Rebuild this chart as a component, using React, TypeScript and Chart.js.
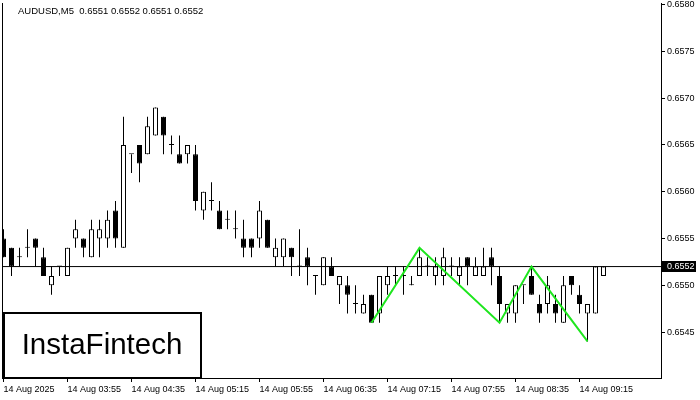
import React, { useEffect, useRef } from "react";
import { Chart, registerables } from "chart.js";

Chart.register(...registerables);

const symbol = "AUDUSD,M5";

const opens = [
  0.6555, 0.6554, 0.6553, 0.6554, 0.6555, 0.6553, 0.6550, 0.6552, 0.6551, 0.6555,
  0.6555, 0.6553, 0.6555, 0.6555, 0.6558, 0.6554, 0.6564, 0.6565, 0.6564, 0.6566,
  0.6568, 0.6565, 0.6564, 0.6564, 0.6564, 0.6558, 0.6559, 0.6558, 0.6557, 0.6556,
  0.6555, 0.6555, 0.6555, 0.6557, 0.6553, 0.6553, 0.6554, 0.6552, 0.6553, 0.6551,
  0.6550, 0.6552, 0.6550, 0.6550, 0.6548, 0.6547, 0.6549, 0.6547, 0.6550, 0.6551,
  0.6551, 0.6550, 0.6551, 0.6552, 0.6551, 0.6551, 0.6552, 0.6551, 0.6553, 0.6551,
  0.6551, 0.6553, 0.6551, 0.6547, 0.6547, 0.6550, 0.6551, 0.6548, 0.6548, 0.6548,
  0.6546, 0.6551, 0.6549, 0.6547, 0.6547, 0.6551,
];
const highs = [
  0.6556, 0.6554, 0.6554, 0.6556, 0.6555, 0.6554, 0.6552, 0.6552, 0.6554, 0.6557,
  0.6555, 0.6557, 0.6557, 0.6558, 0.6559, 0.6568, 0.6564, 0.6565, 0.6568, 0.6569,
  0.6568, 0.6566, 0.6566, 0.6565, 0.6565, 0.6560, 0.6561, 0.6559, 0.6558, 0.6558,
  0.6557, 0.6555, 0.6559, 0.6557, 0.6555, 0.6555, 0.6554, 0.6556, 0.6554, 0.6551,
  0.6553, 0.6553, 0.6551, 0.6551, 0.6550, 0.6549, 0.6549, 0.6551, 0.6552, 0.6552,
  0.6552, 0.6551, 0.6554, 0.6553, 0.6553, 0.6554, 0.6553, 0.6553, 0.6553, 0.6553,
  0.6554, 0.6554, 0.6552, 0.6548, 0.6550, 0.6550, 0.6552, 0.6549, 0.6551, 0.6549,
  0.6551, 0.6551, 0.6550, 0.6548, 0.6552, 0.6552,
];
const lows = [
  0.6553, 0.6551, 0.6552, 0.6553, 0.6552, 0.6551, 0.6549, 0.6551, 0.6551, 0.6554,
  0.6553, 0.6553, 0.6553, 0.6554, 0.6554, 0.6554, 0.6562, 0.6561, 0.6564, 0.6566,
  0.6564, 0.6564, 0.6563, 0.6563, 0.6558, 0.6557, 0.6558, 0.6556, 0.6556, 0.6555,
  0.6553, 0.6553, 0.6554, 0.6554, 0.6552, 0.6552, 0.6551, 0.6551, 0.6550, 0.6549,
  0.6550, 0.6551, 0.6548, 0.6547, 0.6547, 0.6547, 0.6546, 0.6546, 0.6549, 0.6550,
  0.6549, 0.6550, 0.6551, 0.6551, 0.6550, 0.6550, 0.6551, 0.6550, 0.6550, 0.6551,
  0.6551, 0.6550, 0.6546, 0.6546, 0.6546, 0.6548, 0.6549, 0.6546, 0.6547, 0.6546,
  0.6546, 0.6549, 0.6547, 0.6544, 0.6547, 0.6551,
];
const closes = [
  0.6553, 0.6552, 0.6553, 0.6554, 0.6554, 0.6551, 0.6551, 0.6552, 0.6554, 0.6556,
  0.6554, 0.6556, 0.6556, 0.6557, 0.6555, 0.6565, 0.6564, 0.6563, 0.6567, 0.6569,
  0.6566, 0.6565, 0.6563, 0.6565, 0.6559, 0.6560, 0.6559, 0.6556, 0.6557, 0.6556,
  0.6554, 0.6554, 0.6558, 0.6554, 0.6554, 0.6555, 0.6553, 0.6552, 0.6552, 0.6551,
  0.6553, 0.6551, 0.6551, 0.6549, 0.6548, 0.6548, 0.6546, 0.6551, 0.6551, 0.6551,
  0.6551, 0.6550, 0.6553, 0.6552, 0.6552, 0.6553, 0.6552, 0.6552, 0.6552, 0.6552,
  0.6552, 0.6552, 0.6548, 0.6548, 0.6550, 0.6550, 0.6549, 0.6547, 0.6550, 0.6547,
  0.6550, 0.6550, 0.6548, 0.6548, 0.6552, 0.6552,
];

const tickPositions = [0, 8, 16, 24, 32, 40, 48, 56, 64, 72];
const tickLabels = [
  "14 Aug 2025",
  "14 Aug 03:55",
  "14 Aug 04:35",
  "14 Aug 05:15",
  "14 Aug 05:55",
  "14 Aug 06:35",
  "14 Aug 07:15",
  "14 Aug 07:55",
  "14 Aug 08:35",
  "14 Aug 09:15",
];
const priceTicks = [0.6545, 0.655, 0.6555, 0.656, 0.6565, 0.657, 0.6575, 0.658];

const patternIndex = [46, 52, 62, 66, 73];
const patternPrice = [0.6546, 0.6554, 0.6546, 0.6552, 0.6544];

const logoText = "InstaFintech";

export default function App() {
  const ref = useRef<HTMLCanvasElement>(null);

  useEffect(() => {
    document.body.style.margin = "0";
    const family = "'Liberation Sans', Arial, sans-serif";
    const idx = opens.map((_, i) => i);
    const last = opens.length - 1;
    const bid = closes[last];
    const xMin = -0.1875;
    const xMax = 82.1875;
    const yMax = 0.658016;
    const yMin = yMax - 375 / 93600;

    const overlay = {
      id: "overlay",
      afterDraw(chart: any) {
        const { ctx, chartArea: a, scales } = chart;
        ctx.save();
        ctx.strokeStyle = "#000";
        ctx.lineWidth = 1;
        ctx.beginPath();
        ctx.moveTo(a.left + 0.5, a.top);
        ctx.lineTo(a.left + 0.5, a.bottom);
        ctx.stroke();

        ctx.fillStyle = "#000";
        ctx.font = `9.5px ${family}`;
        ctx.textBaseline = "middle";
        ctx.textAlign = "left";
        const hdr = `${symbol}  ${opens[last].toFixed(4)} ${highs[last].toFixed(4)} ${lows[last].toFixed(4)} ${closes[last].toFixed(4)}`;
        ctx.fillText(hdr, a.left + 16, a.top + 8);

        const y = scales.y.getPixelForValue(bid);
        ctx.fillStyle = "#000";
        ctx.fillRect(a.right, Math.round(y) - 6, 35, 11);
        ctx.fillStyle = "#fff";
        ctx.font = `9px ${family}`;
        ctx.fillText(bid.toFixed(4), a.right + 6, Math.round(y));

        ctx.fillStyle = "#fff";
        ctx.fillRect(a.left + 1, 312, 198, a.bottom - 312);
        ctx.strokeStyle = "#000";
        ctx.lineWidth = 2;
        ctx.strokeRect(a.left + 2, 313, 197, a.bottom - 313);
        ctx.fillStyle = "#000";
        ctx.font = `29.5px ${family}`;
        ctx.textAlign = "center";
        ctx.fillText(logoText, 102, 346);
        ctx.restore();
      },
    };

    const chart = new Chart(ref.current as HTMLCanvasElement, {
      type: "bar",
      data: {
        datasets: [
          {
            type: "line",
            data: patternIndex.map((x, k) => ({ x, y: patternPrice[k] })),
            borderColor: "#1ee61e",
            borderWidth: 2,
            pointRadius: 0,
            order: 0,
          } as any,
          {
            type: "line",
            data: [
              { x: xMin, y: bid },
              { x: xMax, y: bid },
            ],
            borderColor: "#000",
            borderWidth: 1,
            pointRadius: 0,
            order: 1,
          } as any,
          {
            type: "bar",
            data: idx.map((i) => ({ x: i, y: [opens[i], closes[i]] })),
            backgroundColor: idx.map((i) => (closes[i] > opens[i] ? "#fff" : "#000")),
            borderColor: "#000",
            borderWidth: 1,
            borderSkipped: false,
            barThickness: 5,
            minBarLength: 1,
            grouped: false,
            inflateAmount: 0,
            order: 2,
          } as any,
          {
            type: "bar",
            data: idx.map((i) => ({ x: i, y: [lows[i], highs[i]] })),
            backgroundColor: "#000",
            borderWidth: 0,
            barThickness: 1,
            grouped: false,
            inflateAmount: 0,
            order: 3,
          } as any,
        ],
      },
      options: {
        animation: false,
        responsive: false,
        events: [],
        layout: { padding: { left: 2, top: 3, right: 0, bottom: 0 } },
        plugins: { legend: { display: false }, tooltip: { enabled: false } },
        scales: {
          x: {
            type: "linear",
            min: xMin,
            max: xMax,
            offset: false,
            grid: { drawOnChartArea: false, drawTicks: true, tickLength: 4, color: "#000", offset: false },
            border: { color: "#000", width: 1 },
            ticks: {
              autoSkip: false,
              maxRotation: 0,
              align: "start",
              padding: 2,
              color: "#000",
              font: { family, size: 9 },
              callback: (_v: any, i: number) => tickLabels[i],
            },
            afterBuildTicks: (s: any) => {
              s.ticks = tickPositions.map((v) => ({ value: v }));
            },
            afterFit: (s: any) => {
              s.height = 22;
              s.paddingLeft = 0;
              s.paddingRight = 0;
            },
          },
          y: {
            type: "linear",
            position: "right",
            min: yMin,
            max: yMax,
            grid: { drawOnChartArea: false, drawTicks: true, tickLength: 4, color: "#000" },
            border: { color: "#000", width: 1 },
            ticks: {
              padding: 2,
              color: "#000",
              font: { family, size: 9 },
              callback: (v: any) => Number(v).toFixed(4),
            },
            afterBuildTicks: (s: any) => {
              s.ticks = priceTicks.map((v) => ({ value: v }));
            },
            afterFit: (s: any) => {
              s.width = 39;
              s.paddingTop = 0;
              s.paddingBottom = 0;
            },
          },
        },
      } as any,
      plugins: [overlay],
    });
    return () => chart.destroy();
  }, []);

  return (
    <div style={{ width: 700, height: 400, background: "#fff" }}>
      <canvas ref={ref} width={700} height={400} style={{ display: "block" }} />
    </div>
  );
}
